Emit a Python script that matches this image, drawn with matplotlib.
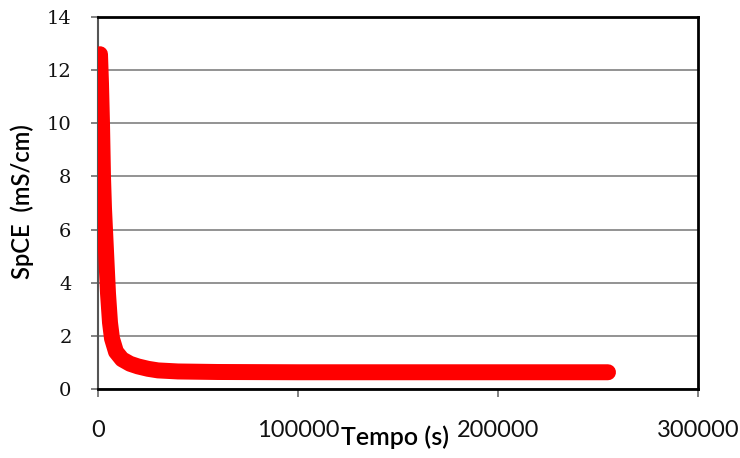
import numpy as np
import matplotlib
matplotlib.use('Agg')
from matplotlib import pyplot as plt

# time (s) and specific conductivity (mS/cm)
tempo = [1000, 1500, 2000, 2500, 3000, 4000, 5000, 6000, 7000, 9000, 12000,
         16000, 20000, 25000, 30000, 40000, 60000, 100000, 150000, 200000, 255000]
spce = [12.6, 11.5, 10.0, 8.0, 6.8, 5.2, 3.6, 2.5, 1.9, 1.4, 1.12,
        0.95, 0.85, 0.76, 0.7, 0.66, 0.64, 0.63, 0.63, 0.63, 0.63]

x_ticks = [0, 100000, 200000, 300000]
y_ticks = [0, 2, 4, 6, 8, 10, 12, 14]

fig = plt.figure(figsize=(7.4, 4.58), dpi=100)
ax = fig.add_axes([98 / 740, 1 - 389 / 458, 600 / 740, 372 / 458])

ax.plot(tempo, spce, color='#ff0000', lw=11.5, solid_capstyle='round',
        solid_joinstyle='round', zorder=3)

ax.set_xlim(0, 300000)
ax.set_ylim(0, 14)
ax.set_xticks(x_ticks)
ax.set_yticks(y_ticks)
ax.set_xticklabels([str(v) for v in x_ticks], fontsize=17, family='Lato', color='#111111')
ax.set_yticklabels([str(v) for v in y_ticks], fontsize=14, family='DejaVu Serif', color='#111111')

ax.yaxis.grid(True, color='#8a8a8a', lw=1.3)
ax.set_axisbelow(True)

for s in ['top', 'right', 'bottom']:
    ax.spines[s].set_color('black')
    ax.spines[s].set_linewidth(2)
ax.spines['left'].set_color('#555555')
ax.spines['left'].set_linewidth(1.5)

ax.tick_params(axis='y', direction='out', length=5, width=1.3, color='#777777', pad=14)
ax.tick_params(axis='x', direction='out', length=6, width=1.3, color='#777777', pad=16)

fig.text(395 / 740, 1 - 437 / 458, 'Tempo (s)', fontsize=18, family='Lato',
         fontweight='semibold', ha='center', va='center')
fig.text(22 / 740, 1 - 202 / 458, 'SpCE  (mS/cm)', fontsize=17, family='Lato',
         fontweight='semibold', rotation=90, ha='center', va='center')

plt.savefig('out.png', dpi=100)
